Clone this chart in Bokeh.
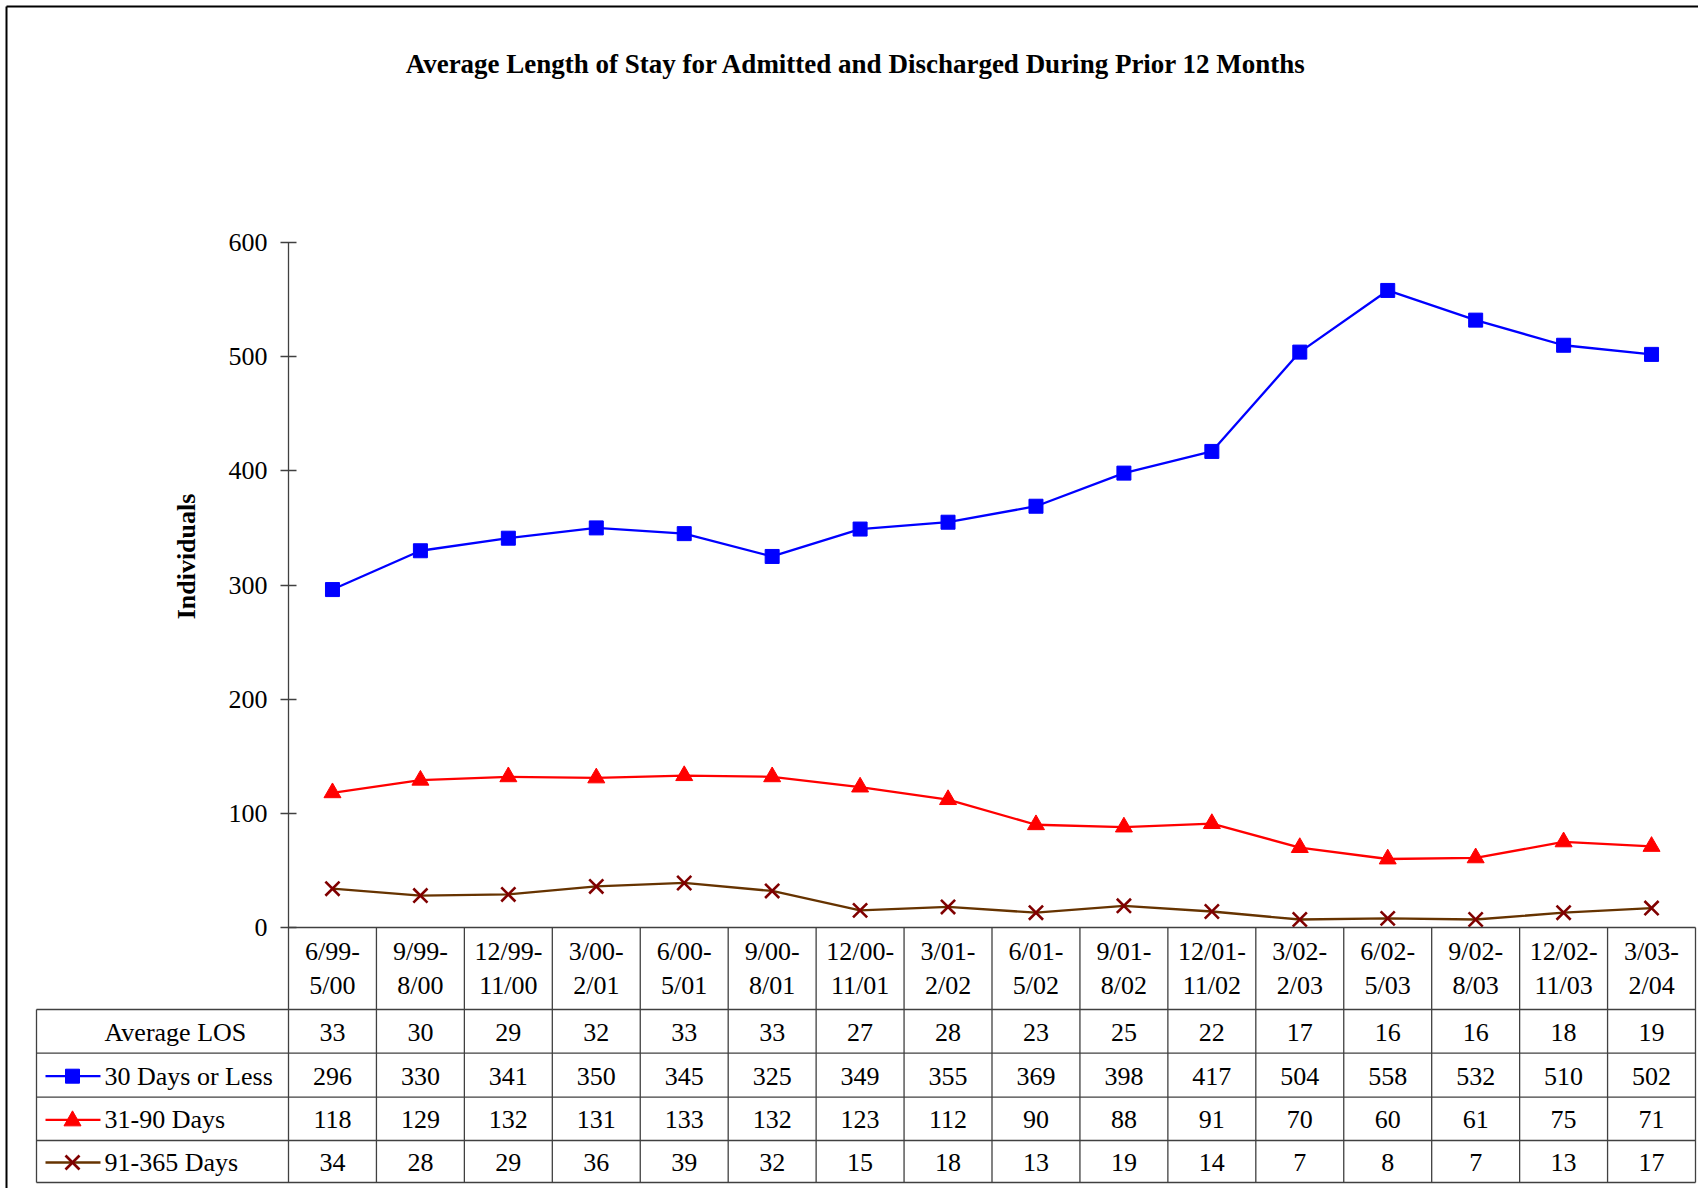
import math
from bokeh.plotting import figure
from bokeh.models import Range1d, FixedTicker
from bokeh.core.properties import value
from bokeh.embed import file_html
from bokeh.resources import INLINE

# ---------------- data ----------------
period_start = ["6/99-", "9/99-", "12/99-", "3/00-", "6/00-", "9/00-", "12/00-", "3/01-",
                "6/01-", "9/01-", "12/01-", "3/02-", "6/02-", "9/02-", "12/02-", "3/03-"]
period_end = ["5/00", "8/00", "11/00", "2/01", "5/01", "8/01", "11/01", "2/02",
              "5/02", "8/02", "11/02", "2/03", "5/03", "8/03", "11/03", "2/04"]
avg_los = [33, 30, 29, 32, 33, 33, 27, 28, 23, 25, 22, 17, 16, 16, 18, 19]
days_30_or_less = [296, 330, 341, 350, 345, 325, 349, 355, 369, 398, 417, 504, 558, 532, 510, 502]
days_31_90 = [118, 129, 132, 131, 133, 132, 123, 112, 90, 88, 91, 70, 60, 61, 75, 71]
days_91_365 = [34, 28, 29, 36, 39, 32, 15, 18, 13, 19, 14, 7, 8, 7, 13, 17]
series_names = ["30 Days or Less", "31-90 Days", "91-365 Days"]
y_ticks = [0, 100, 200, 300, 400, 500, 600]
title_text = "Average Length of Stay for Admitted and Discharged During Prior 12 Months"
y_title = "Individuals"

# ---------------- layout geometry (canvas pixels) ----------------
W_FIG, H_FIG = 1698, 1188
X0, X1 = 288, 1695          # frame left / right
Y600, Y0 = 242, 927         # y=600 and y=0
YBOT = H_FIG                # frame bottom
N = len(period_start)
CW = (X1 - X0) / N
K = (Y0 - Y600) / 600.0

def dx(px):
    return (px - X0) / CW

def dy(py):
    return (Y0 - py) / K

FONT = value("Liberation Serif")
FS = "26px"
GRID_C = "#404040"

p = figure(width=W_FIG, height=H_FIG, output_backend="svg", toolbar_location=None,
           x_range=Range1d(0, N), y_range=Range1d(dy(YBOT), 600),
           x_axis_type=None, title=None,
           min_border_left=X0, min_border_right=W_FIG - X1,
           min_border_top=Y600, min_border_bottom=0)
p.outline_line_color = None
p.grid.visible = False
p.background_fill_color = "white"
p.border_fill_color = "white"

ax = p.yaxis[0]
ax.bounds = (0, 600)
ax.ticker = FixedTicker(ticks=y_ticks)
ax.minor_tick_line_color = None
ax.major_tick_in = 8
ax.major_tick_out = 8
ax.axis_line_color = GRID_C
ax.axis_line_width = 1.3
ax.major_tick_line_color = GRID_C
ax.major_tick_line_width = 1.3
ax.major_label_text_font = "Liberation Serif"
ax.major_label_text_font_size = FS
ax.major_label_text_color = "black"
ax.major_label_standoff = 13

xs = [i + 0.5 for i in range(N)]

# ---------------- series ----------------
LW = 2.3
p.line(xs, days_30_or_less, line_color="#0000FF", line_width=LW)
p.scatter(xs, days_30_or_less, marker="square", size=14, fill_color="#0000FF", line_color="#0000FF")
p.line(xs, days_31_90, line_color="#FF0000", line_width=LW)
p.scatter(xs, days_31_90, marker="triangle", size=17, fill_color="#FF0000", line_color="#FF0000")
p.line(xs, days_91_365, line_color="#663300", line_width=LW)
p.scatter(xs, days_91_365, marker="x", size=20, line_color="#800000", line_width=2.6)

# ---------------- titles ----------------
p.text(x=[dx(856)], y=[dy(63)], text=[title_text], text_font=FONT, text_font_size="27px",
       text_font_style="bold", text_align="center", text_baseline="middle", level="annotation")
p.text(x=[dx(186)], y=[dy(556)], text=[y_title], text_font=FONT, text_font_size=FS,
       text_font_style="bold", text_align="center", text_baseline="middle",
       angle=math.pi / 2, level="annotation")

# ---------------- outer border ----------------
p.segment(x0=[dx(6), dx(6)], y0=[dy(6), dy(6)],
          x1=[dx(6), dx(W_FIG)], y1=[dy(H_FIG), dy(6)],
          line_color="black", line_width=2, level="annotation")

# ---------------- data table ----------------
LEG_L = 36
row_edges = [Y0, 1009, 1052.7, 1096.7, 1140, 1182]
hx0 = [0] + [dx(LEG_L)] * (len(row_edges) - 1)
hy = [dy(r) for r in row_edges]
p.segment(x0=hx0, y0=hy, x1=[N] * len(hy), y1=hy, line_color=GRID_C, line_width=1.3, level="annotation")
p.segment(x0=list(range(N + 1)), y0=[dy(Y0)] * (N + 1), x1=list(range(N + 1)),
          y1=[dy(row_edges[-1])] * (N + 1), line_color=GRID_C, line_width=1.3, level="annotation")
p.segment(x0=[dx(LEG_L)], y0=[dy(row_edges[1])], x1=[dx(LEG_L)], y1=[dy(row_edges[-1])],
          line_color=GRID_C, line_width=1.3, level="annotation")

# category labels
p.text(x=xs, y=[dy(951)] * N, text=period_start, text_font=FONT, text_font_size=FS,
       text_align="center", text_baseline="middle", level="annotation")
p.text(x=xs, y=[dy(985)] * N, text=period_end, text_font=FONT, text_font_size=FS,
       text_align="center", text_baseline="middle", level="annotation")

rows = [avg_los, days_30_or_less, days_31_90, days_91_365]
row_c = [(row_edges[r + 1] + row_edges[r + 2]) / 2 + 1 for r in range(4)]
for r, vals in enumerate(rows):
    p.text(x=xs, y=[dy(row_c[r])] * N, text=[str(v) for v in vals], text_font=FONT, text_font_size=FS,
           text_align="center", text_baseline="middle", level="annotation")

# legend column
p.text(x=[dx(104)], y=[dy(row_c[0])], text=["Average LOS"], text_font=FONT, text_font_size=FS,
       text_align="left", text_baseline="middle", level="annotation")
line_cols = ["#0000FF", "#FF0000", "#663300"]
mark_cols = ["#0000FF", "#FF0000", "#800000"]
MX = 72
for i in range(3):
    cy = row_c[i + 1]
    yc = dy(cy)
    p.line([dx(45), dx(100)], [yc, yc], line_color=line_cols[i], line_width=LW, level="annotation")
    if i == 0:
        h = 7
        p.patch([dx(MX - h), dx(MX + h), dx(MX + h), dx(MX - h)],
                [dy(cy - h), dy(cy - h), dy(cy + h), dy(cy + h)],
                fill_color=mark_cols[i], line_color=mark_cols[i], level="annotation")
    elif i == 1:
        p.patch([dx(MX - 8.5), dx(MX + 8.5), dx(MX)],
                [dy(cy + 6), dy(cy + 6), dy(cy - 9)],
                fill_color=mark_cols[i], line_color=mark_cols[i], level="annotation")
    else:
        h = 7
        p.segment(x0=[dx(MX - h), dx(MX - h)], y0=[dy(cy - h), dy(cy + h)],
                  x1=[dx(MX + h), dx(MX + h)], y1=[dy(cy + h), dy(cy - h)],
                  line_color=mark_cols[i], line_width=2.6, level="annotation")
    p.text(x=[dx(104)], y=[yc], text=[series_names[i]], text_font=FONT, text_font_size=FS,
           text_align="left", text_baseline="middle", level="annotation")

open("out.html", "w").write(file_html(p, INLINE))
